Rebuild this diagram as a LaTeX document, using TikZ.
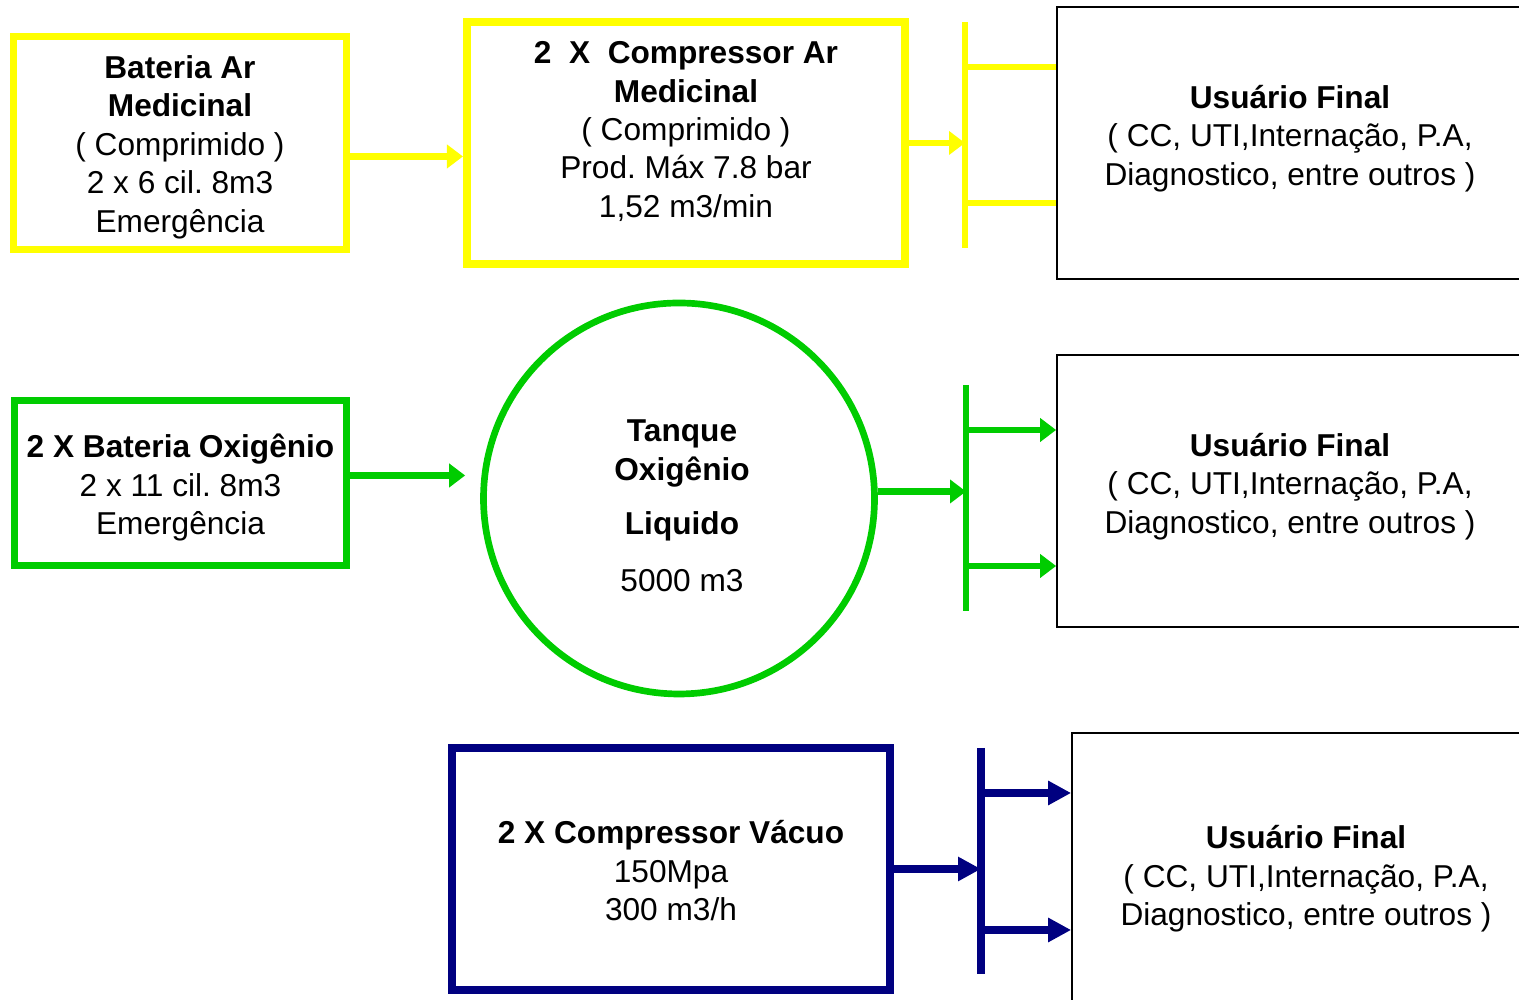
\documentclass[tikz,border=0pt]{standalone}
\usepackage{fontspec}
\setmainfont{Liberation Sans}
\usetikzlibrary{arrows.meta}

\definecolor{gas@yellow}{RGB}{255,255,0}
\definecolor{gas@green}{RGB}{0,204,0}
\definecolor{gas@navy}{RGB}{0,0,128}

\frenchspacing

\begin{document}
\begin{tikzpicture}[x=1cm, y=1cm, font=\fontsize{9}{10.95}\selectfont,
  srcbox/.style={draw=#1, line width=2.1pt, inner sep=0pt},
  usrbox/.style={draw=black, line width=0.5pt, minimum height=2.72cm},
  txt/.style={align=center, inner sep=0pt},
  feed/.style={draw=#1, line width=1.8pt},
  flow/.style={draw=#1, line width=1.8pt,
    -{Triangle[length=0.16cm, width=0.23cm, fill=#1]}}]

  % Bounding box = clip window, the user boxes run past the right edge
  \path[use as bounding box] (0,0) rectangle (15.19,10);
  \clip (0,0) rectangle (15.19,10);

  % ---- AR MEDICINAL (yellow line) ----
  \node[srcbox=gas@yellow, minimum width=3.325cm, minimum height=2.125cm]
    (bateriaAr) at (1.80,8.57) {};
  \node[txt] (bateriaArTxt) at ([yshift=-0.04cm]bateriaAr.center)
    {\textbf{Bateria Ar}\\\textbf{Medicinal}\\( Comprimido )\\2 x 6 cil. 8m3\\Emergência};
  \node[srcbox=gas@yellow, line width=2.3pt, minimum width=4.38cm, minimum height=2.42cm]
    (compAr) at (6.86,8.57) {};
  \node[txt] (compArTxt) at (6.86,8.685)
    {\textbf{2\ \ X\ \ Compressor Ar}\\\textbf{Medicinal}\\( Comprimido )\\Prod. Máx 7.8 bar\\1,52 m3/min};
  \coordinate (barArTop) at (9.65,9.78);
  \coordinate (barArBot) at (9.65,7.52);
  \node[usrbox, minimum width=4.66cm] (usrAr) at (12.90,8.57) {};
  \node[txt] (usrArTxt) at ([yshift=0.045cm]usrAr.center)
    {\textbf{Usuário Final}\\( CC, UTI,Internação, P.A,\\Diagnostico, entre outros )};

  \draw[flow=gas@yellow] ([yshift=-0.135cm]bateriaAr.east) -- ([yshift=-0.135cm]bateriaAr.east -| compAr.west);
  \draw[flow=gas@yellow] (compAr.east) -- (compAr.east -| barArTop);
  \draw[feed=gas@yellow] (barArTop) -- (barArBot);
  \draw[feed=gas@yellow] ([yshift=0.76cm]usrAr.west -| barArTop) -- ([yshift=0.76cm]usrAr.west);
  \draw[feed=gas@yellow] ([yshift=-0.60cm]usrAr.west -| barArTop) -- ([yshift=-0.60cm]usrAr.west);

  % ---- OXIGENIO (green line) ----
  \node[srcbox=gas@green, line width=2pt, minimum width=3.32cm, minimum height=1.65cm]
    (bateriaOx) at (1.805,5.17) {};
  \node[txt] (bateriaOxTxt) at ([yshift=-0.045cm]bateriaOx.center)
    {\textbf{2 X Bateria Oxigênio}\\2 x 11 cil. 8m3\\Emergência};
  \node[draw=gas@green, line width=1.9pt, circle, minimum size=3.91cm, inner sep=0pt]
    (tanque) at (6.79,5.015) {};
  \node[txt] (tanqueTxt) at (6.82,4.94)
    {\textbf{Tanque}\\\textbf{Oxigênio}\\[4.4pt]\textbf{Liquido}\\[5.3pt]5000 m3};
  \coordinate (barOxTop) at (9.66,6.15);
  \coordinate (barOxBot) at (9.66,3.89);
  \node[usrbox, minimum width=4.66cm] (usrOx) at (12.90,5.09) {};
  \node[txt] (usrOxTxt) at ([yshift=0.045cm]usrOx.center)
    {\textbf{Usuário Final}\\( CC, UTI,Internação, P.A,\\Diagnostico, entre outros )};

  \draw[flow=gas@green, shorten >=0.15cm] ([yshift=0.075cm]bateriaOx.east) -- ([yshift=0.075cm]bateriaOx.east -| tanque.west);
  \draw[flow=gas@green] ([yshift=0.07cm]tanque.east) -- ([yshift=0.07cm]tanque.east -| barOxTop);
  \draw[feed=gas@green] (barOxTop) -- (barOxBot);
  \draw[flow=gas@green] ([yshift=0.61cm]usrOx.west -| barOxTop) -- ([yshift=0.61cm]usrOx.west);
  \draw[flow=gas@green] ([yshift=-0.75cm]usrOx.west -| barOxTop) -- ([yshift=-0.75cm]usrOx.west);

  % ---- VACUO (navy line) ----
  \node[srcbox=gas@navy, line width=2.3pt, minimum width=4.38cm, minimum height=2.42cm]
    (compVac) at (6.71,1.31) {};
  \node[txt] (compVacTxt) at ([yshift=-0.02cm]compVac.center)
    {\textbf{2 X Compressor Vácuo}\\150Mpa\\300 m3/h};
  \coordinate (barVacTop) at (9.81,2.52);
  \coordinate (barVacBot) at (9.81,0.26);
  \node[usrbox, minimum width=4.68cm] (usrVac) at (13.06,1.31) {};
  \node[txt] (usrVacTxt) at ([yshift=-0.10cm]usrVac.center)
    {\textbf{Usuário Final}\\( CC, UTI,Internação, P.A,\\Diagnostico, entre outros )};

  \tikzset{flow/.append style={line width=2.3pt,
    -{Triangle[length=0.23cm, width=0.23cm, fill=gas@navy]}}}
  \draw[flow=gas@navy] (compVac.east) -- (compVac.east -| barVacTop);
  \draw[feed=gas@navy, line width=2.3pt] (barVacTop) -- (barVacBot);
  \draw[flow=gas@navy] ([yshift=0.76cm]usrVac.west -| barVacTop) -- ([yshift=0.76cm]usrVac.west);
  \draw[flow=gas@navy] ([yshift=-0.61cm]usrVac.west -| barVacTop) -- ([yshift=-0.61cm]usrVac.west);
\end{tikzpicture}
\end{document}
